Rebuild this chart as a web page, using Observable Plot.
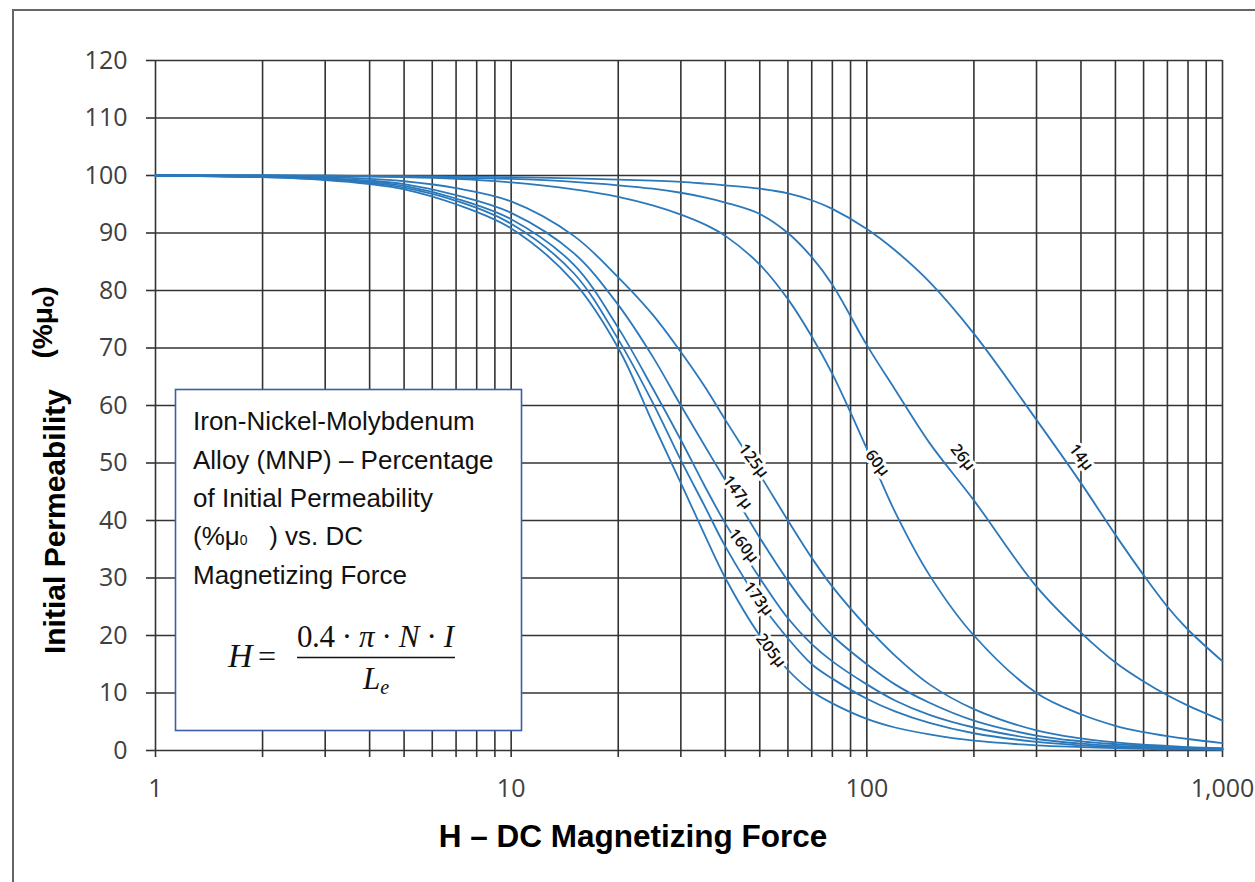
<!DOCTYPE html>
<html><head><meta charset="utf-8">
<script src="https://cdn.jsdelivr.net/npm/d3@7"></script>
<script src="https://cdn.jsdelivr.net/npm/@observablehq/plot@0.6"></script>
<style>
body{margin:0;background:#fff;overflow:hidden;}
#wrap{position:relative;width:1255px;height:882px;overflow:hidden;background:#fff;}
#frame{position:absolute;left:12px;top:9px;width:1300px;height:1000px;border:2px solid #666;box-sizing:border-box;}
#chart{position:absolute;left:0;top:0;}
#overlay{position:absolute;left:0;top:0;pointer-events:none;}
</style></head>
<body>
<div id="wrap">
<div id="frame"></div>
<div id="chart"></div>
<svg id="overlay" width="1255" height="882" xmlns="http://www.w3.org/2000/svg">
  <rect x="175.5" y="389.5" width="346" height="341" fill="#fff" stroke="#3d5da8" stroke-width="1.6"/>
  <g font-family="Liberation Sans, Arial, sans-serif" font-size="26" fill="#111">
    <text x="193" y="430">Iron-Nickel-Molybdenum</text>
    <text x="193" y="468.5">Alloy (MNP) – Percentage</text>
    <text x="193" y="507">of Initial Permeability</text>
    <text x="193" y="545" xml:space="preserve">(%μ<tspan font-size="14">0</tspan>   ) vs. DC</text>
    <text x="193" y="583.5">Magnetizing Force</text>
  </g>
  <g font-family="Liberation Serif, DejaVu Serif, serif" fill="#111">
    <text x="228" y="667" font-size="34" font-style="italic">H</text>
    <text x="258" y="667" font-size="32">=</text>
    <text x="297" y="647" font-size="31" textLength="157" lengthAdjust="spacing">0.4 · <tspan font-style="italic">π</tspan> · <tspan font-style="italic">N</tspan> · <tspan font-style="italic">I</tspan></text>
    <line x1="297" x2="455" y1="657.5" y2="657.5" stroke="#111" stroke-width="1.4"/>
    <text x="363" y="689" font-size="31" font-style="italic">L<tspan font-size="20" dy="5">e</tspan></text>
  </g>
</svg>
</div>
<script>
// ---- data ----
const H = [1,2,3,4,5,7,10,15,20,25,30,35,40,50,60,70,80,100,120,150,200,300,400,500,600,700,800,1000];
const seriesNames = ["14μ","26μ","60μ","125μ","147μ","160μ","173μ","205μ"];
const v14  = [100,100,100,99.9,99.9,99.8,99.7,99.5,99.3,99.1,98.9,98.6,98.3,97.7,96.9,95.7,94.2,90.7,87,81.5,72.5,57.5,46.5,37.5,30.5,25,21,15.5];
const v26  = [100,100,99.9,99.9,99.8,99.6,99.4,98.9,98.3,97.7,97,96.2,95.3,93.3,90,85.8,81,70.5,62.8,53.5,43.5,28.5,20.5,15.3,12,9.6,7.8,5.2];
const v60  = [100,100,99.9,99.8,99.7,99.4,98.8,97.6,96.3,94.8,93.2,91.5,89.5,84.5,78.5,72,65.5,52.5,41.5,30.5,20,10,6.3,4.3,3.2,2.5,2,1.3];
const v125 = [100,99.9,99.7,99.4,99,97.8,95.5,89.5,82.3,75.8,69.3,63.3,57.5,48,40,33.5,28.5,21.5,16.5,11.5,7.2,3.5,2.1,1.4,1,0.8,0.6,0.4];
const v147 = [100,99.8,99.5,99.1,98.5,96.6,93.5,86.5,77.5,68.5,60,53,47,37,29.5,24,20,15,11.5,8.3,5.2,2.6,1.6,1.1,0.8,0.6,0.5,0.3];
const v160 = [100,99.8,99.4,98.9,98.2,96,92.4,84.5,73.5,63,54,46,39.5,30,23,18.5,15.5,11.5,8.7,6.2,4,2,1.2,0.8,0.6,0.5,0.4,0.3];
const v173 = [100,99.7,99.3,98.7,97.9,95.6,91.6,83,71.5,60.5,50.5,42.5,35.5,25.8,19.5,15,12.5,9,6.8,4.8,3,1.5,0.9,0.6,0.5,0.4,0.3,0.2];
const v205 = [100,99.7,99.2,98.5,97.6,95,90.8,81.5,70,57,46.5,37.5,30,20,14,10.3,8.2,5.5,4,2.8,1.7,0.9,0.6,0.4,0.3,0.2,0.2,0.1];
const seriesValues = [v14, v26, v60, v125, v147, v160, v173, v205];

// curve labels (H, %) where each label sits
const labelNames = ["14μ","26μ","60μ","125μ","147μ","160μ","173μ","205μ"];
const labelH = [400,186,107,48,43.3,45,49.5,53.7];
const labelV = [51,51,50,50.4,44.9,35.6,26.4,17.4];

// axes
const yTicks = [0,10,20,30,40,50,60,70,80,90,100,110,120];
const xMajor = [1,10,100,1000];
const xGrid = [1,2,3,4,5,6,7,8,9,10,20,30,40,50,60,70,80,90,100,200,300,400,500,600,700,800,900,1000];
const xTitle = "H – DC Magnetizing Force";
const yTitle = "Initial Permeability";
const yUnit = "(%μₒ)";

// ---- build ----
const rows = [];
seriesNames.forEach((name, i) => H.forEach((h, j) => rows.push({name, H: h, v: seriesValues[i][j]})));
const labels = labelNames.map((t, i) => ({t, H: labelH[i], v: labelV[i]}));

const chart = Plot.plot({
  width: 1255, height: 882,
  marginLeft: 155, marginRight: 33, marginTop: 60, marginBottom: 132,
  x: {type: "log", domain: [1, 1000]},
  y: {domain: [0, 120]},
  style: {fontFamily: "Open Sans", fontSize: "25px", color: "#404040", background: "transparent"},
  marks: [
    Plot.ruleX(xGrid, {stroke: "#333", strokeWidth: 1.6}),
    Plot.ruleY(yTicks, {stroke: "#333", strokeWidth: 1.6}),
    Plot.axisY(yTicks, {tickSize: 9, tickPadding: 19, label: null, stroke: "#333", strokeWidth: 1.6, fontSize: 25}),
    Plot.axisX(xGrid, {tickSize: 7, tickFormat: () => "", label: null, stroke: "#333", strokeWidth: 1.6}),
    Plot.axisX(xMajor, {tickSize: 0, tickPadding: 29, tickFormat: d3.format(","), label: null, fontSize: 25}),
    Plot.line(rows, {x: "H", y: "v", z: "name", stroke: "#2b78bb", strokeWidth: 1.8, curve: "catmull-rom"}),
    Plot.text(labels, {x: "H", y: "v", text: "t", rotate: 52, fontSize: 16, fontWeight: 600, fill: "#111", stroke: "white", strokeWidth: 6, fontFamily: "Open Sans"}),
    Plot.text([xTitle], {frameAnchor: "bottom", textAnchor: "middle", dx: -56, dy: 96, fontSize: 31.5, fontWeight: "bold", fill: "#000", fontFamily: "Liberation Sans"}),
    Plot.text([yTitle], {frameAnchor: "left", textAnchor: "middle", lineAnchor: "middle", dx: -100, dy: 116, rotate: -90, fontSize: 30, fontWeight: "bold", fill: "#000", fontFamily: "Liberation Sans"}),
    Plot.text([yUnit], {frameAnchor: "left", textAnchor: "middle", lineAnchor: "middle", dx: -112, dy: -83, rotate: -90, fontSize: 28, fontWeight: "bold", fill: "#000", fontFamily: "Liberation Sans"})
  ]
});
document.getElementById("chart").appendChild(chart);
</script>
</body></html>
